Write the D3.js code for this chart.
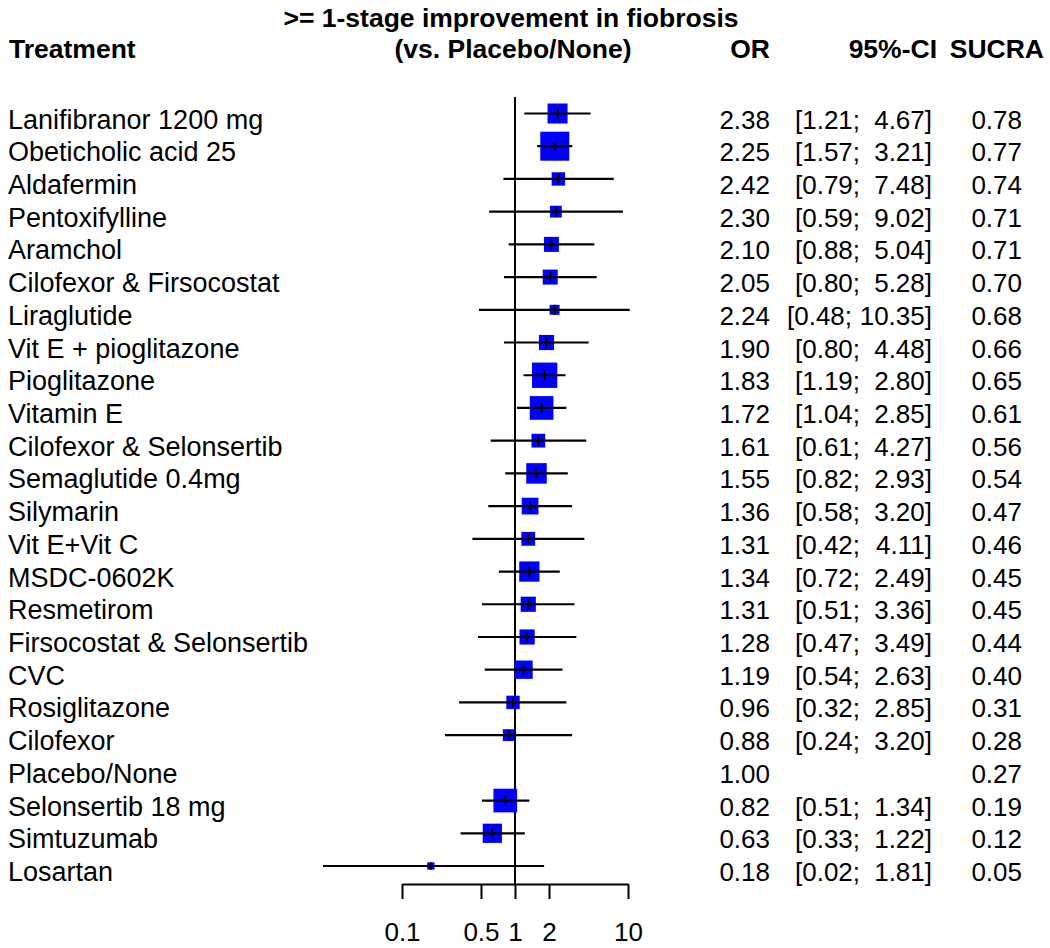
<!DOCTYPE html>
<html>
<head>
<meta charset="utf-8">
<script src="https://cdn.jsdelivr.net/npm/d3@7"></script>
<style>
  html, body { margin: 0; padding: 0; background: #fff; }
  svg { display: block; }
  text { font-family: "Liberation Sans", Arial, sans-serif; fill: #000; }
</style>
</head>
<body>
<svg id="chart" width="1050" height="948"></svg>
<script>
const treatments = [
  "Lanifibranor 1200 mg", "Obeticholic acid 25", "Aldafermin", "Pentoxifylline",
  "Aramchol", "Cilofexor & Firsocostat", "Liraglutide", "Vit E + pioglitazone",
  "Pioglitazone", "Vitamin E", "Cilofexor & Selonsertib", "Semaglutide 0.4mg",
  "Silymarin", "Vit E+Vit C", "MSDC-0602K", "Resmetirom",
  "Firsocostat & Selonsertib", "CVC", "Rosiglitazone", "Cilofexor",
  "Placebo/None", "Selonsertib 18 mg", "Simtuzumab", "Losartan"
];
const orValues = [2.38, 2.25, 2.42, 2.30, 2.10, 2.05, 2.24, 1.90, 1.83, 1.72, 1.61, 1.55,
  1.36, 1.31, 1.34, 1.31, 1.28, 1.19, 0.96, 0.88, 1.00, 0.82, 0.63, 0.18];
const ciLower = [1.21, 1.57, 0.79, 0.59, 0.88, 0.80, 0.48, 0.80, 1.19, 1.04, 0.61, 0.82,
  0.58, 0.42, 0.72, 0.51, 0.47, 0.54, 0.32, 0.24, null, 0.51, 0.33, 0.02];
const ciUpper = [4.67, 3.21, 7.48, 9.02, 5.04, 5.28, 10.35, 4.48, 2.80, 2.85, 4.27, 2.93,
  3.20, 4.11, 2.49, 3.36, 3.49, 2.63, 2.85, 3.20, null, 1.34, 1.22, 1.81];
const sucra = [0.78, 0.77, 0.74, 0.71, 0.71, 0.70, 0.68, 0.66, 0.65, 0.61, 0.56, 0.54,
  0.47, 0.46, 0.45, 0.45, 0.44, 0.40, 0.31, 0.28, 0.27, 0.19, 0.12, 0.05];
// relative weight of each comparison (square area)
const weights = [40, 84, 18, 14, 22.5, 22.5, 10, 23, 64, 56, 19, 42,
  28, 19, 41, 23, 23, 33.5, 18, 14, 0, 56, 37, 5.3];
const tickValues = [0.1, 0.5, 1, 2, 10];
const titleLine1 = ">= 1-stage improvement in fiobrosis";
const titleLine2 = "(vs. Placebo/None)";

const rows = treatments.map((t, i) => ({
  name: t, or: orValues[i], lo: ciLower[i], hi: ciUpper[i], sucra: sucra[i], w: weights[i]
}));

const svg = d3.select("#chart");
const x = d3.scaleLog().domain([0.1, 10]).range([402, 628]);
const y = d3.scalePoint().domain(treatments).range([113.5, 866]);
const size = d3.scaleSqrt().domain([0, 84]).range([0, 29]);
const f2 = d3.format(".2f");

const FS = 27, FSV = 26, FSB = 26.5;

// Header
svg.append("text").attr("x", 511).attr("y", 27).attr("text-anchor", "middle")
  .attr("font-size", FSB).attr("font-weight", "bold").text(titleLine1);
svg.append("text").attr("x", 9).attr("y", 58)
  .attr("font-size", FSB).attr("font-weight", "bold").text("Treatment");
svg.append("text").attr("x", 513).attr("y", 58).attr("text-anchor", "middle")
  .attr("font-size", FSB).attr("font-weight", "bold").text(titleLine2);
svg.append("text").attr("x", 770).attr("y", 58).attr("text-anchor", "end")
  .attr("font-size", FSB).attr("font-weight", "bold").text("OR");
svg.append("text").attr("x", 937).attr("y", 58).attr("text-anchor", "end")
  .attr("font-size", FSB).attr("font-weight", "bold").text("95%-CI");
svg.append("text").attr("x", 1044).attr("y", 58).attr("text-anchor", "end")
  .attr("font-size", FSB).attr("font-weight", "bold").text("SUCRA");

// Reference line at OR = 1
svg.append("line").attr("x1", x(1)).attr("x2", x(1)).attr("y1", 97).attr("y2", 884)
  .attr("stroke", "#000").attr("stroke-width", 2);

// Rows
const g = svg.append("g").selectAll("g").data(rows).join("g")
  .attr("transform", d => `translate(0,${y(d.name)})`);

g.append("text").attr("x", 8).attr("y", 15).attr("font-size", FS).text(d => d.name);
g.append("text").attr("x", 770).attr("y", 15).attr("text-anchor", "end")
  .attr("font-size", FSV).text(d => f2(d.or));
g.filter(d => d.lo != null).append("text")
  .attr("x", d => d.hi >= 10 ? 787 : 795).attr("y", 15)
  .attr("font-size", FSV).text(d => "[" + f2(d.lo) + ";");
g.filter(d => d.hi != null).append("text").attr("x", 932).attr("y", 15).attr("text-anchor", "end")
  .attr("font-size", FSV).text(d => f2(d.hi) + "]");
g.append("text").attr("x", 1022).attr("y", 15).attr("text-anchor", "end")
  .attr("font-size", FSV).text(d => f2(d.sucra));

const est = g.filter(d => d.lo != null);
est.append("rect")
  .attr("x", d => x(d.or) - size(d.w) / 2).attr("y", d => -size(d.w) / 2)
  .attr("width", d => size(d.w)).attr("height", d => size(d.w))
  .attr("fill", "#0000ff");
est.append("line").attr("x1", d => x(d.or)).attr("x2", d => x(d.or))
  .attr("y1", d => -Math.min(5, size(d.w) / 2)).attr("y2", d => Math.min(5, size(d.w) / 2))
  .attr("stroke", "#000").attr("stroke-width", 2);
est.append("line").attr("x1", d => x(d.lo)).attr("x2", d => x(d.hi)).attr("y1", 0).attr("y2", 0)
  .attr("stroke", "#000").attr("stroke-width", 2.2);

// Axis
const axis = d3.axisBottom(x).tickValues(tickValues).tickFormat(d => String(d))
  .tickSizeInner(15).tickSizeOuter(0).tickPadding(24);
const ag = svg.append("g").attr("transform", "translate(0,884)").call(axis);
ag.select(".domain").attr("stroke", "#000").attr("stroke-width", 2);
ag.selectAll(".tick line").attr("stroke", "#000").attr("stroke-width", 2);
ag.selectAll(".tick text").attr("font-size", 26).attr("font-family", "Liberation Sans, Arial, sans-serif")
  .attr("fill", "#000");
</script>
</body>
</html>
